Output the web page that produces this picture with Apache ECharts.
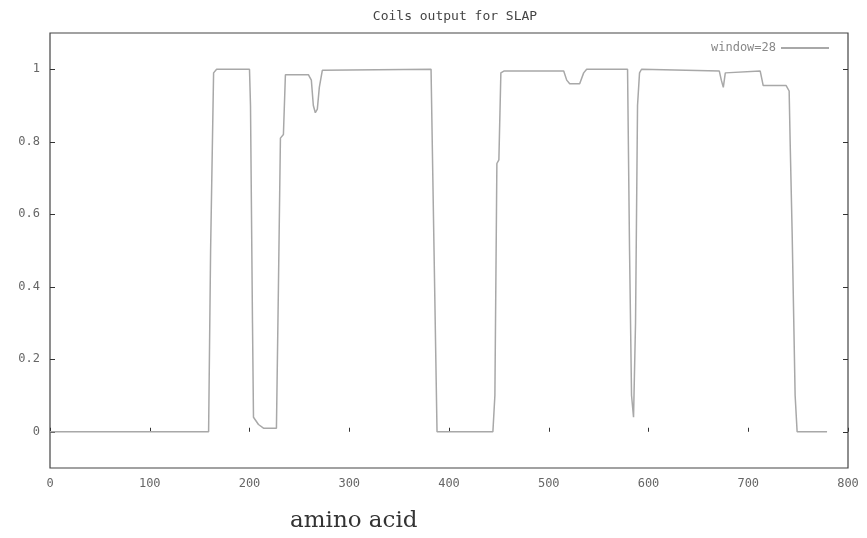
<!DOCTYPE html>
<html><head><meta charset="utf-8">
<script src="https://cdn.jsdelivr.net/npm/echarts@6/dist/echarts.min.js"></script>
<style>html,body{margin:0;padding:0;background:#fff}#c{width:867px;height:538px}</style>
</head><body><div id="c"></div>
<script>
const titleText = 'Coils output for SLAP';
const seriesName = 'window=28';
const xAxisTitle = 'amino acid';
const xTicks = [0, 100, 200, 300, 400, 500, 600, 700, 800];
const yTicks = [0, 0.2, 0.4, 0.6, 0.8, 1];
const residue = [0, 159, 161, 164, 167, 200, 201, 203, 204, 209, 214, 227, 229, 231, 234, 236, 259, 262, 264, 266, 268, 270, 273, 382, 385, 388, 444, 446, 448, 450, 452, 455, 515, 518, 521, 531, 535, 538, 579, 581, 583, 585, 587, 589, 591, 593, 671, 673, 675, 677, 712, 715, 738, 741, 742, 744, 747, 749, 779];
const coilProb = [0, 0, 0.5, 0.99, 1.0, 1.0, 0.9, 0.3, 0.04, 0.02, 0.01, 0.01, 0.4, 0.81, 0.82, 0.985, 0.985, 0.97, 0.9, 0.88, 0.89, 0.95, 0.997, 1.0, 0.5, 0, 0, 0.1, 0.74, 0.75, 0.99, 0.995, 0.995, 0.97, 0.96, 0.96, 0.99, 1.0, 1.0, 0.5, 0.1, 0.04, 0.3, 0.9, 0.99, 1.0, 0.995, 0.97, 0.95, 0.99, 0.995, 0.955, 0.955, 0.94, 0.8, 0.55, 0.1, 0, 0];

const mono = 'DejaVu Sans Mono';
const lineColor = '#a8a8a8';
const chart = echarts.init(document.getElementById('c'), null, {renderer: 'canvas'});
chart.setOption({
  animation: false,
  backgroundColor: '#fff',
  title: {text: titleText, left: 450, top: 5, textAlign: 'center',
    textStyle: {fontFamily: mono, fontSize: 13, fontWeight: 'normal', color: '#444'}},
  legend: {right: 33, top: 37, align: 'right', itemWidth: 48, itemHeight: 2, itemGap: 6,
    icon: 'rect', data: [seriesName],
    textStyle: {fontFamily: mono, fontSize: 12, color: '#888'}},
  grid: {left: 50, right: 19, top: 33, bottom: 70, show: true, borderColor: '#444', borderWidth: 1.2, backgroundColor: 'transparent'},
  xAxis: [{type: 'value', min: 0, max: 800, interval: 100,
    axisLine: {show: false}, splitLine: {show: false},
    axisTick: {show: true, inside: true, length: 4, lineStyle: {color: '#333'}},
    axisLabel: {fontFamily: mono, fontSize: 12, color: '#666', margin: 10, showMaxLabel: true, showMinLabel: true}
  }],
  yAxis: [{type: 'value', min: -0.1, max: 1.1,
    axisLine: {show: false}, splitLine: {show: false},
    axisTick: {show: true, inside: true, length: 5, customValues: yTicks, lineStyle: {color: '#333'}},
    axisLabel: {fontFamily: mono, fontSize: 12, color: '#666', margin: 10, customValues: yTicks}
  }, {type: 'value', min: -0.1, max: 1.1, position: 'right',
    axisLine: {show: false}, splitLine: {show: false},
    axisTick: {show: true, inside: true, length: 5, customValues: yTicks, lineStyle: {color: '#333'}},
    axisLabel: {show: false, customValues: yTicks}
  }],
  graphic: [{type: 'text', left: 290, top: 510,
    style: {text: xAxisTitle, fontFamily: 'DejaVu Serif', fontSize: 23, fill: '#333'}}],
  series: [{name: seriesName, type: 'line', showSymbol: false, symbol: 'none',
    data: residue.map((r, i) => [r, coilProb[i]]),
    lineStyle: {color: lineColor, width: 1.5}, itemStyle: {color: lineColor}}]
});
</script></body></html>
